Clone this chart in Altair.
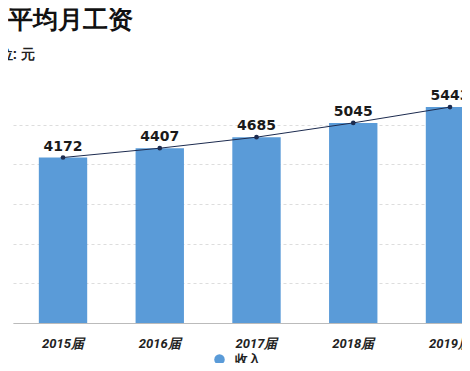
import altair as alt
import pandas as pd

years = ["2015届", "2016届", "2017届", "2018届", "2019届"]
income = [4172, 4407, 4685, 5045, 5443]
series = ["收入"] * 5

df = pd.DataFrame({"year": years, "income": income, "series": series})

xscale = alt.Scale(range=[0, 487], paddingInner=0.5, paddingOuter=0.267)
yscale = alt.Scale(domain=[0, 6000])

base = alt.Chart(df).encode(
    x=alt.X("year:N", sort=years, scale=xscale,
            axis=alt.Axis(title=None, labelAngle=0, ticks=False, domainColor="#bbbbbb",
                          labelPadding=14, labelFontSize=13, labelFontWeight="bold",
                          labelFontStyle="italic", labelColor="#222222", labelFont="Roboto")),
)

bars = base.mark_bar(color="#5a9bd8").encode(
    y=alt.Y("income:Q", scale=yscale,
            axis=alt.Axis(title="单位: 元", titleAngle=0, titleX=-29, titleY=-31,
                          titleAlign="left", titleBaseline="middle", titleFontSize=14,
                          titleFontWeight="bold", titleColor="#222222",
                          values=[0, 1000, 2000, 3000, 4000, 5000], domain=False, ticks=False,
                          gridDash=[3, 3], gridColor="#dddddd", labelPadding=8,
                          labelFontSize=12, labelFontWeight="bold", labelFontStyle="italic",
                          labelColor="#222222")),
    color=alt.Color("series:N", scale=alt.Scale(range=["#5a9bd8"]),
                    legend=alt.Legend(title=None, orient="none", legendX=200, legendY=268,
                                      symbolType="circle", symbolSize=110, labelFontSize=13,
                                      labelOffset=9,
                                      labelFontWeight="bold", labelColor="#222222")),
)

line = base.mark_line(color="#1c2b4f", strokeWidth=1).encode(y=alt.Y("income:Q", scale=yscale))
pts = base.mark_point(color="#1c2b4f", filled=True, size=22, opacity=1).encode(
    y=alt.Y("income:Q", scale=yscale))
labels = base.mark_text(dy=-11, fontSize=14, fontWeight="bold", color="#1a1a1a",
                        font="DejaVu Sans").encode(
    y=alt.Y("income:Q", scale=yscale), text="income:Q")

chart = alt.layer(bars, line, pts, labels).properties(
    width=449, height=238,
    autosize=alt.AutoSizeParams(type="none"),
    padding={"left": 5, "top": 77, "right": 0, "bottom": 40},
    title=alt.TitleParams("毕业生平均月工资", anchor="start", frame="group", dx=-80,
                          fontSize=25, fontWeight="bold", color="#111111", offset=14),
).configure_view(stroke=None)

chart.save("out.html", embed_options={"renderer": "svg", "actions": False})
